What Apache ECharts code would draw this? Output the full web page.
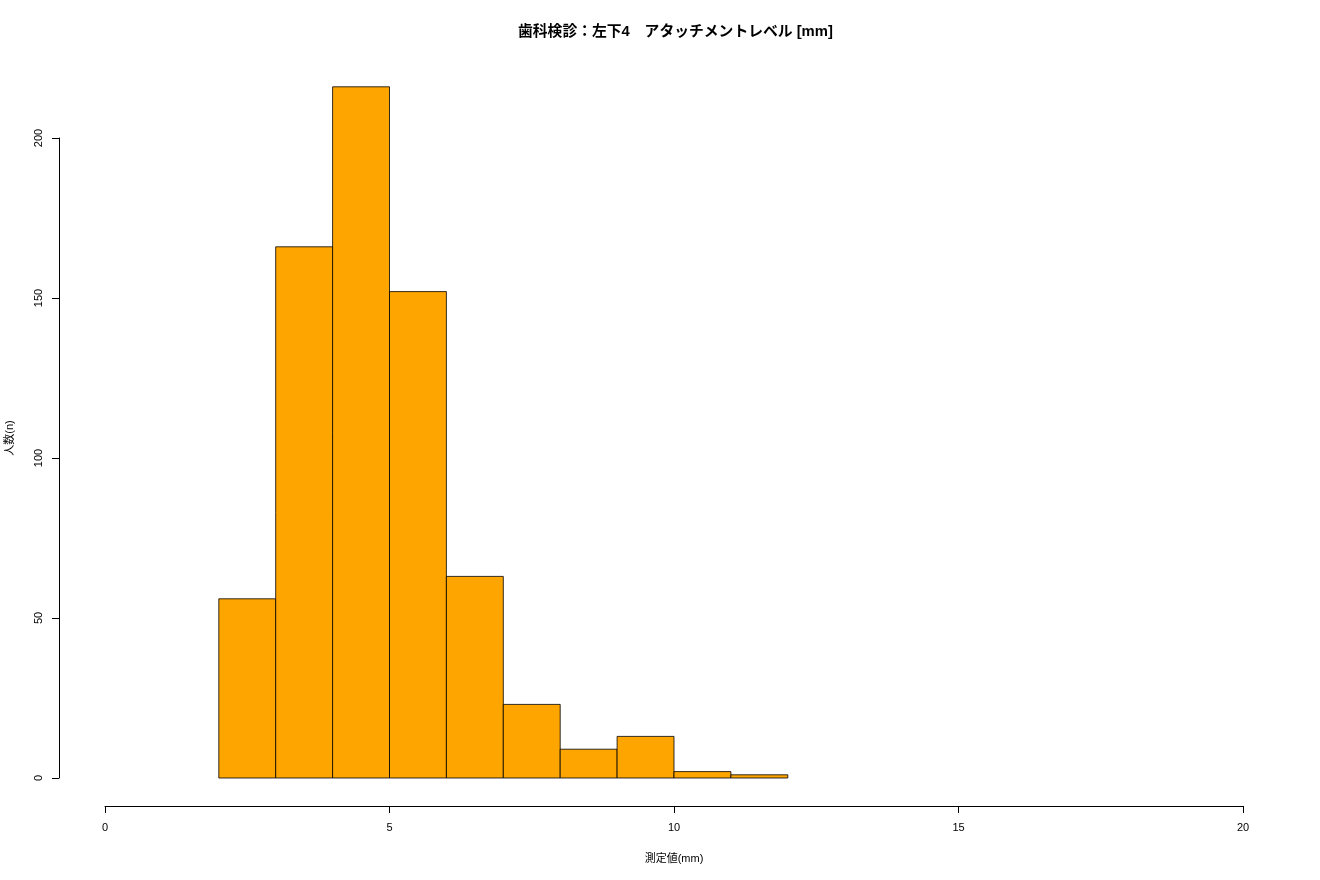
<!DOCTYPE html>
<html>
<head>
<meta charset="utf-8">
<script src="https://cdn.jsdelivr.net/npm/echarts@6/dist/echarts.min.js"></script>
<style>
html,body{margin:0;padding:0;background:#fff;}
#c{width:1320px;height:880px;}
</style>
</head>
<body>
<div id="c"></div>
<script>
const binStarts = [2, 3, 4, 5, 6, 7, 8, 9, 10, 11];
const binEnds   = [3, 4, 5, 6, 7, 8, 9, 10, 11, 12];
const counts    = [56, 166, 216, 152, 63, 23, 9, 13, 2, 1];
const xTicks = [0, 5, 10, 15, 20];
const yTicks = [0, 50, 100, 150, 200];
const titleText = '歯科検診：左下4　アタッチメントレベル [mm]';
const xName = '測定値(mm)';
const yName = '人数(n)';

const FONT = '"Liberation Sans", "Noto Sans CJK JP", sans-serif';
const chart = echarts.init(document.getElementById('c'), null, {renderer: 'canvas'});
const data = binStarts.map((s, i) => [s, binEnds[i], counts[i]]);

chart.setOption({
  animation: false,
  backgroundColor: '#ffffff',
  title: {
    text: titleText, left: 513, top: 20,
    textStyle: {fontFamily: FONT, fontSize: 14.8, fontWeight: 'bold', color: '#000'}
  },
  grid: {left: 105, right: 77, top: 138, bottom: 102},
  xAxis: {
    type: 'value', min: xTicks[0], max: xTicks[xTicks.length - 1], interval: 5,
    offset: 28,
    name: xName, nameLocation: 'middle', nameGap: 47,
    nameTextStyle: {fontFamily: FONT, fontSize: 11, color: '#000'},
    axisLine: {show: true, onZero: false, lineStyle: {color: '#000', width: 1}},
    axisTick: {show: true, length: 7, lineStyle: {color: '#000'}},
    axisLabel: {fontFamily: FONT, fontSize: 11, color: '#000', margin: 16},
    splitLine: {show: false}
  },
  yAxis: {
    type: 'value', min: yTicks[0], max: yTicks[yTicks.length - 1], interval: 50,
    offset: 46,
    axisLine: {show: true, onZero: false, lineStyle: {color: '#000', width: 1}},
    axisTick: {show: true, length: 7, lineStyle: {color: '#000'}},
    axisLabel: {fontFamily: FONT, fontSize: 11, color: '#000', margin: 15, rotate: 90},
    splitLine: {show: false}
  },
  graphic: [{
    type: 'text', x: 10, y: 438, rotation: Math.PI / 2,
    style: {text: yName, fontFamily: FONT, fontSize: 11, fill: '#000',
            textAlign: 'center', textVerticalAlign: 'middle'}
  }],
  series: [{
    type: 'custom',
    clip: false,
    data: data,
    renderItem: function (params, api) {
      const p0 = api.coord([api.value(0), 0]);
      const p1 = api.coord([api.value(1), api.value(2)]);
      return {
        type: 'rect',
        shape: {x: p0[0], y: p1[1], width: p1[0] - p0[0], height: p0[1] - p1[1]},
        style: {fill: '#FFA500', stroke: '#000', lineWidth: 0.8}
      };
    }
  }]
});
</script>
</body>
</html>
